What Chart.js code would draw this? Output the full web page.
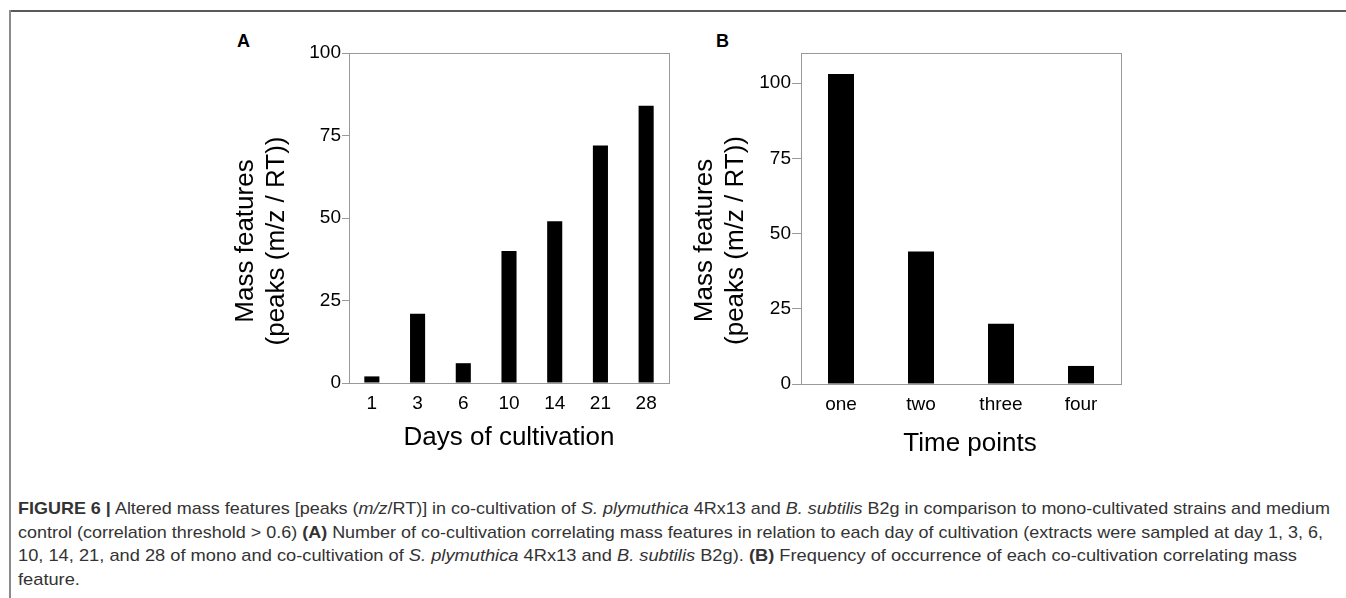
<!DOCTYPE html>
<html>
<head>
<meta charset="utf-8">
<script src="https://cdn.jsdelivr.net/npm/chart.js@4.4.1/dist/chart.umd.min.js"></script>
<style>
  body { margin: 0; background: #fff; width: 1346px; height: 598px; overflow: hidden; position: relative;
         font-family: "Liberation Sans", Arial, sans-serif; }
  #frameTop { position: absolute; left: 9px; top: 10px; width: 1337px; height: 0; border-top: 2px solid #5a5a5a; }
  #frameLeft { position: absolute; left: 9px; top: 10px; width: 0; height: 588px; border-left: 2px solid #8a8a8a; }
  .wrap { position: absolute; }
  .panel { position: absolute; font-weight: bold; font-size: 18px; color: #000; }
  .line { position: absolute; left: 18px; white-space: nowrap; font-size: 17px; color: #333; transform-origin: 0 0; }
</style>
</head>
<body>
<div id="frameTop"></div>
<div id="frameLeft"></div>

<div class="panel" style="left:237px;top:31px">A</div>
<div class="panel" style="left:716px;top:31px">B</div>

<div class="wrap" style="left:200px;top:20px"><canvas id="chartA" width="490" height="450"></canvas></div>
<div class="wrap" style="left:680px;top:20px"><canvas id="chartB" width="460" height="450"></canvas></div>

<div id="caption">
  <div class="line" style="top:499px" data-w="1312"><b>FIGURE 6 |</b> Altered mass features [peaks (<i>m/z</i>/RT)] in co-cultivation of <i>S. plymuthica</i> 4Rx13 and <i>B. subtilis</i> B2g in comparison to mono-cultivated strains and medium</div>
  <div class="line" style="top:523px" data-w="1305">control (correlation threshold &gt; 0.6) <b>(A)</b> Number of co-cultivation correlating mass features in relation to each day of cultivation (extracts were sampled at day 1, 3, 6,</div>
  <div class="line" style="top:546px" data-w="1279">10, 14, 21, and 28 of mono and co-cultivation of <i>S. plymuthica</i> 4Rx13 and <i>B. subtilis</i> B2g). <b>(B)</b> Frequency of occurrence of each co-cultivation correlating mass</div>
  <div class="line" style="top:570px">feature.</div>
</div>

<script>
// panel A: mass features per day of cultivation
const daysLabels = ['1', '3', '6', '10', '14', '21', '28'];
const daysValues = [2, 21, 6, 40, 49, 72, 84];
const daysYMax = 100;

// panel B: frequency of occurrence over time points
const pointLabels = ['one', 'two', 'three', 'four'];
const pointValues = [103, 44, 20, 6];
const pointsYMax = 110;

const yStep = 25;
const yTitle = ['Mass features', '(peaks (m/z / RT))'];

// draws the grey box round the plot area and the axis titles
const boxAndTitles = {
    id: 'boxAndTitles',
    afterDraw(chart, args, opts) {
        const { ctx, chartArea: a } = chart;
        ctx.save();
        ctx.strokeStyle = '#999';
        ctx.lineWidth = 1;
        ctx.strokeRect(a.left + 0.5, a.top + 0.5, a.right - a.left, a.bottom - a.top);

        ctx.fillStyle = '#000';
        ctx.font = '26px "Liberation Sans", Arial, sans-serif';
        ctx.textAlign = 'center';
        ctx.textBaseline = 'middle';
        ctx.fillText(opts.xText, (a.left + a.right) / 2 + opts.xdx, a.bottom + opts.xdy);

        ctx.translate(a.left - opts.ydx, (a.top + a.bottom) / 2 + opts.ydy);
        ctx.rotate(-Math.PI / 2);
        yTitle.forEach((t, i) => ctx.fillText(t, 0, i * 31));
        ctx.restore();
    }
};

function makeChart(id, labels, values, yMax, barPct, yWidth, xHeight, tickLen, pad, titleOpts) {
    const ctx = document.getElementById(id).getContext('2d');
    return new Chart(ctx, {
        type: 'bar',
        data: {
            labels: labels,
            datasets: [{
                data: values,
                backgroundColor: '#000',
                borderWidth: 0,
                categoryPercentage: 1,
                barPercentage: barPct
            }]
        },
        options: {
            responsive: false,
            animation: false,
            layout: { padding: pad },
            plugins: {
                legend: { display: false },
                tooltip: { enabled: false },
                boxAndTitles: titleOpts
            },
            scales: {
                x: {
                    grid: { display: false, drawTicks: false },
                    border: { display: false },
                    ticks: {
                        color: '#000',
                        padding: 9,
                        font: { family: '"Liberation Sans", Arial, sans-serif', size: 19 }
                    },
                    afterFit: s => { s.height = xHeight; }
                },
                y: {
                    min: 0,
                    max: yMax,
                    grid: { drawOnChartArea: false, tickLength: tickLen, color: '#999' },
                    border: { display: false },
                    ticks: {
                        stepSize: yStep,
                        includeBounds: false,
                        color: '#000',
                        padding: 1,
                        font: { family: '"Liberation Sans", Arial, sans-serif', size: 19 }
                    },
                    afterFit: s => { s.width = yWidth; }
                }
            }
        },
        plugins: [boxAndTitles]
    });
}

makeChart('chartA', daysLabels, daysValues, daysYMax, 0.33, 149, 87, 7,
    { left: 0, right: 21, top: 33, bottom: 0 },
    { xText: 'Days of cultivation', xdx: 0, xdy: 55, ydx: 103, ydy: 23 });

makeChart('chartB', pointLabels, pointValues, pointsYMax, 0.325, 121, 86, 9,
    { left: 0, right: 19, top: 33, bottom: 0 },
    { xText: 'Time points', xdx: 9, xdy: 60, ydx: 96, ydy: 22 });

// squeeze caption lines to the measured widths
const lines = document.querySelectorAll('#caption .line');
let lastScale = 1;
lines.forEach(el => {
    const target = el.dataset.w;
    if (target) {
        lastScale = target / el.getBoundingClientRect().width;
    }
    el.style.transform = 'scaleX(' + lastScale + ')';
});
</script>
</body>
</html>
